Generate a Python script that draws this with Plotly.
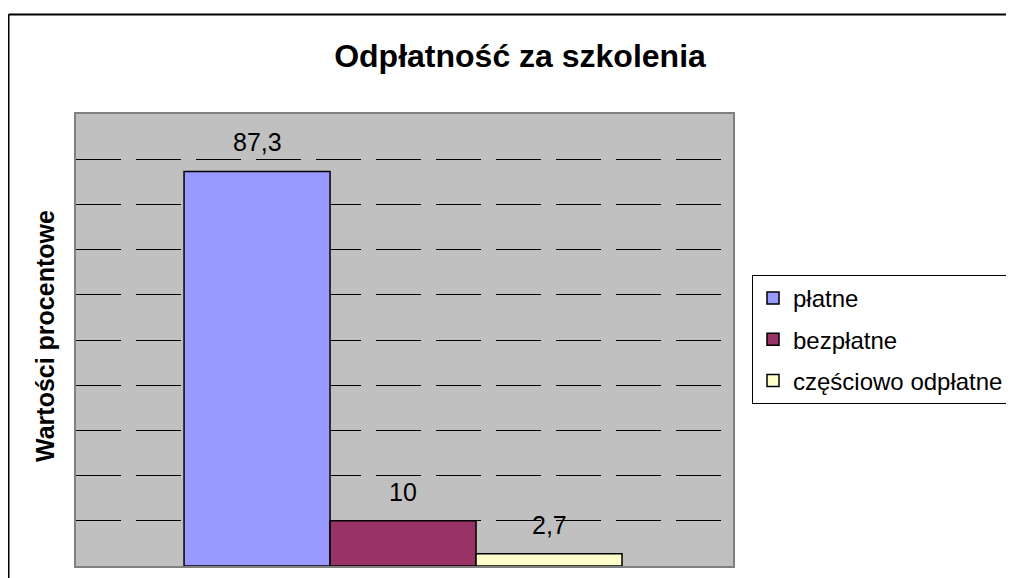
import plotly.graph_objects as go

categories = ["płatne", "bezpłatne", "częściowo odpłatne"]
values = [87.3, 10, 2.7]
colors = ["#9999FF", "#993366", "#FFFFCC"]
title_text = "Odpłatność za szkolenia"
y_title = "Wartości procentowe"

W, H = 1060, 578
OFF = 8  # page body margin offset
L, R, T, B = 76 - OFF, 733 - OFF, 114 - OFF, 566 - OFF
pw, ph = R - L, B - T

def px_x(x):
    return (x - OFF - L) / pw

def px_y(y):
    return (B - (y - OFF)) / ph

FONT = "Arial, Liberation Sans"

fig = go.Figure()
for i, (cat, val, col) in enumerate(zip(categories, values, colors)):
    fig.add_trace(go.Bar(
        x=[i], y=[val], name=cat, width=1,
        marker=dict(color=col, line=dict(color="black", width=1.5)),
        legendgroup=cat,
    ))
    fig.add_annotation(
        x=i, y=val, xref="x", yref="y",
        text=f"{val:g}".replace(".", ","),
        showarrow=False, yanchor="middle", yshift=29,
        font=dict(family=FONT, size=25, color="black"),
    )

fig.add_annotation(
    x=px_x(45), y=px_y(336), xref="paper", yref="paper",
    text=f"<b>{y_title}</b>", textangle=-90, showarrow=False,
    xanchor="center", yanchor="middle",
    font=dict(family=FONT, size=25, color="black"),
)

# outer chart border (top and left visible)
fig.add_shape(type="line", xref="paper", yref="paper",
              x0=px_x(8.5), x1=px_x(8.5), y0=px_y(620), y1=px_y(14.5),
              line=dict(color="black", width=2))
fig.add_shape(type="line", xref="paper", yref="paper",
              x0=px_x(8.5), x1=px_x(1060), y0=px_y(14.5), y1=px_y(14.5),
              line=dict(color="black", width=2))

fig.update_layout(
    width=W, height=H,
    margin=dict(l=L, r=W - R, t=T, b=H - B),
    paper_bgcolor="white",
    plot_bgcolor="#C0C0C0",
    barmode="overlay",
    title=dict(text=f"<b>{title_text}</b>", x=px_x(520), xref="paper",
               xanchor="center", y=1 - (56 - OFF) / H, yanchor="middle",
               font=dict(family=FONT, size=32, color="black")),
    legend=dict(x=px_x(752), y=px_y(275), xanchor="left", yanchor="top",
                bordercolor="black", borderwidth=1, bgcolor="white",
                font=dict(family=FONT, size=24, color="black"),
                traceorder="grouped", tracegroupgap=7),
    showlegend=True,
)
fig.update_xaxes(range=[-1.24, 3.26], showticklabels=False, showgrid=False,
                 zeroline=False, showline=True, mirror=True,
                 linecolor="#808080", linewidth=2, ticks="")
fig.update_yaxes(range=[0, 100], dtick=10, showticklabels=False, showgrid=True,
                 gridcolor="black", gridwidth=1, griddash="45px,15px",
                 zeroline=False, showline=True, mirror=True,
                 linecolor="#808080", linewidth=2, ticks="")

fig.write_html("out.html")
